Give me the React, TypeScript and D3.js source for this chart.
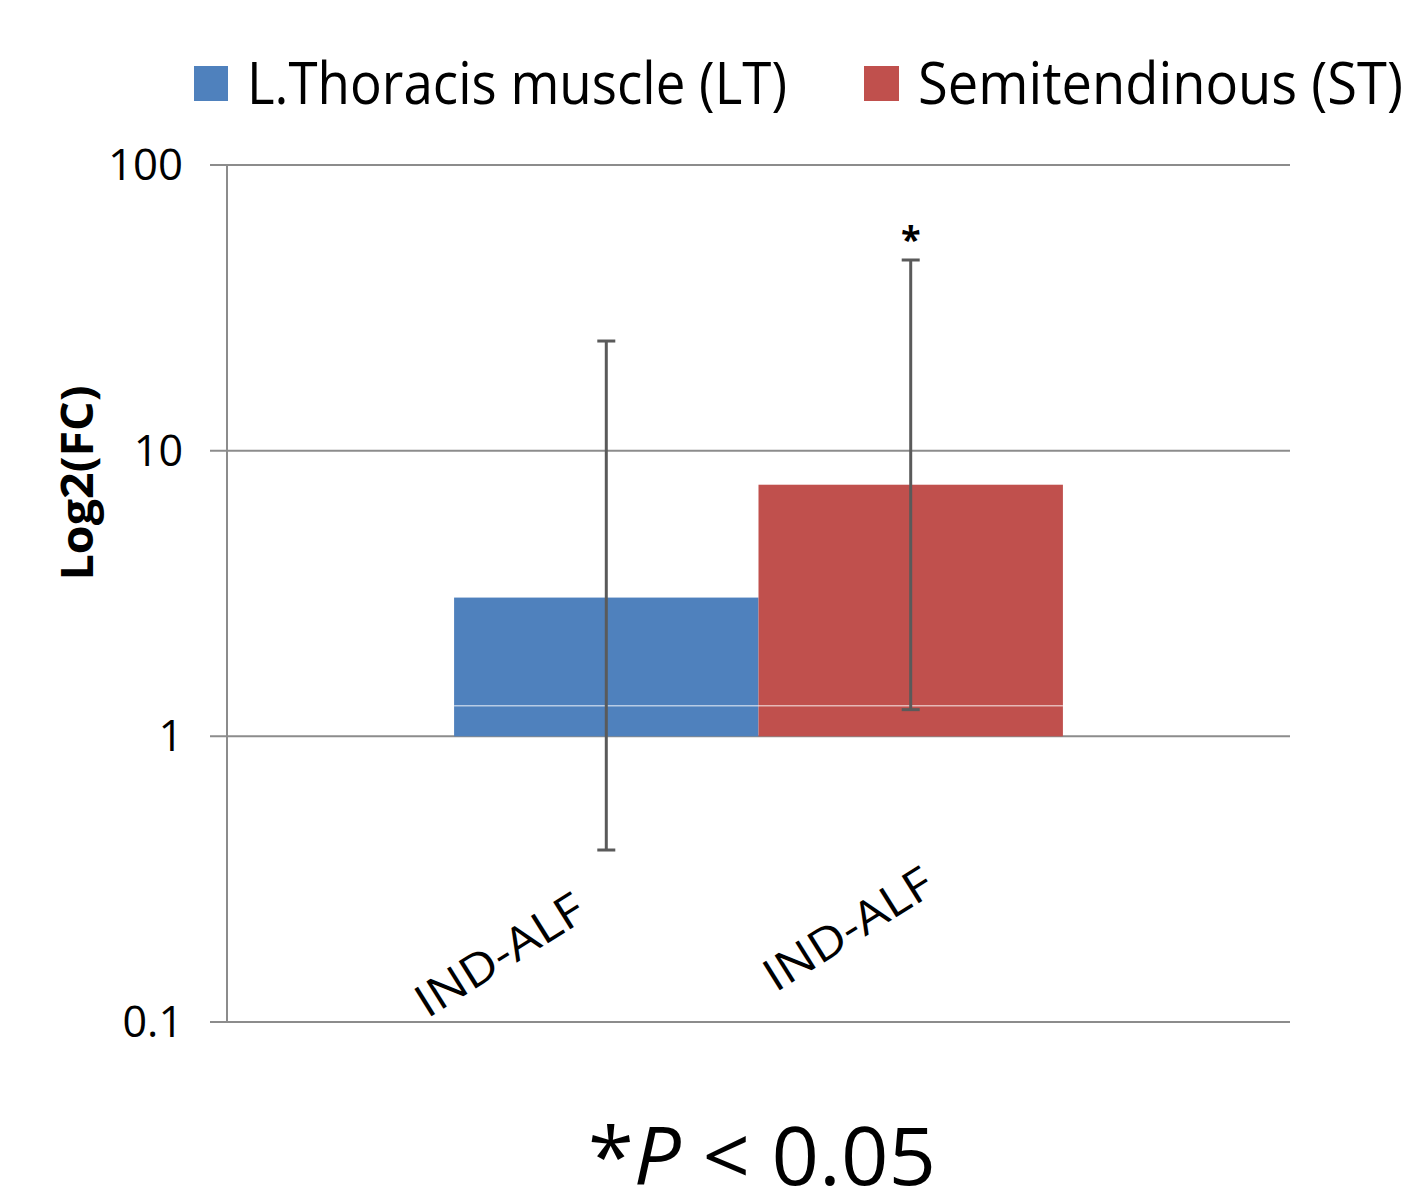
import React from 'react';
import * as d3 from 'd3';

// chart data
const categories = ['IND-ALF'];
const seriesNames = ['L.Thoracis muscle (LT)', 'Semitendinous (ST)'];
const seriesKeys = ['LT', 'ST'];
const seriesColors = ['#4F81BD', '#C0504D'];
const barValues = [3.06, 7.6];
const errLow = [0.4, 1.24];
const errHigh = [24.2, 46.5];
const significant = [false, true];
const yTicks = [0.1, 1, 10, 100];
const yTickLabels = ['0.1', '1', '10', '100'];
const highlightValue = 1.28;

const App = () => {
  const width = 1411;
  const height = 1197;
  const plot = { left: 227, right: 1290, top: 165, bottom: 1022 };
  const font = "'Open Sans', 'Noto Sans', sans-serif";

  const y = d3.scaleLog().domain([0.1, 100]).range([plot.bottom, plot.top]);
  const x0 = d3.scaleBand()
    .domain(categories)
    .range([plot.left, plot.right])
    .paddingInner(0)
    .paddingOuter(0.373);
  const x1 = d3.scaleBand()
    .domain(seriesKeys)
    .range([0, x0.bandwidth()])
    .padding(0);

  const gridColor = '#8c8c8c';
  const errColor = '#5a5a5a';
  const capHalf = 9;

  return (
    <div style={{ position: 'absolute', left: 0, top: 0 }}>
      <svg width={width} height={height} style={{ display: 'block', background: '#fff' }}>
        {/* legend */}
        <g>
          <rect x={194} y={66} width={34} height={35} fill={seriesColors[0]} />
          <text x={247} y={104} fontFamily={font} fontSize={58} textLength={540} lengthAdjust="spacingAndGlyphs">
            {seriesNames[0]}
          </text>
          <rect x={864} y={66} width={35} height={35} fill={seriesColors[1]} />
          <text x={918} y={104} fontFamily={font} fontSize={58} textLength={485} lengthAdjust="spacingAndGlyphs">
            {seriesNames[1]}
          </text>
        </g>

        {/* gridlines and ticks */}
        {yTicks.map((t, i) => (
          <g key={t}>
            <line x1={210} x2={plot.right} y1={y(t)} y2={y(t)} stroke={gridColor} strokeWidth={2} />
            <text
              x={183}
              y={y(t) + 15}
              textAnchor="end"
              fontFamily={font}
              fontSize={43}
              textLength={yTickLabels[i] === '100' ? 75 : undefined}
              lengthAdjust="spacingAndGlyphs"
            >
              {yTickLabels[i]}
            </text>
          </g>
        ))}
        <line x1={plot.left} x2={plot.left} y1={plot.top} y2={plot.bottom} stroke={gridColor} strokeWidth={2} />

        {/* bars */}
        {categories.map((c) => (
          <g key={c} transform={`translate(${x0(c)},0)`}>
            {seriesKeys.map((k, i) => (
              <rect
                key={k}
                x={x1(k)}
                y={y(barValues[i])}
                width={x1.bandwidth()}
                height={y(1) - y(barValues[i])}
                fill={seriesColors[i]}
              />
            ))}
            <line
              x1={0}
              x2={x0.bandwidth()}
              y1={y(highlightValue)}
              y2={y(highlightValue)}
              stroke="rgba(255,255,255,0.6)"
              strokeWidth={1.5}
            />
            {seriesKeys.map((k, i) => {
              const cx = (x1(k) as number) + x1.bandwidth() / 2;
              return (
                <g key={k + 'err'} stroke={errColor} strokeWidth={3}>
                  <line x1={cx} x2={cx} y1={y(errHigh[i])} y2={y(errLow[i])} />
                  <line x1={cx - capHalf} x2={cx + capHalf} y1={y(errHigh[i])} y2={y(errHigh[i])} />
                  <line x1={cx - capHalf} x2={cx + capHalf} y1={y(errLow[i])} y2={y(errLow[i])} />
                </g>
              );
            })}
            {seriesKeys.map((k, i) =>
              significant[i] ? (
                <text
                  key={k + 'sig'}
                  x={(x1(k) as number) + x1.bandwidth() / 2}
                  y={y(errHigh[i]) - 8}
                  textAnchor="middle"
                  fontFamily={font}
                  fontWeight="bold"
                  fontSize={36}
                >
                  *
                </text>
              ) : null
            )}
            {/* rotated category labels under each bar */}
            {seriesKeys.map((k, i) => {
              const cx = (x1(k) as number) + x1.bandwidth() / 2;
              const ax = cx + (i === 0 ? -18 : 26);
              const ay = i === 0 ? 918 : 892;
              return (
                <text
                  key={k + 'lab'}
                  transform={`translate(${ax},${ay}) rotate(-32)`}
                  textAnchor="end"
                  fontFamily={font}
                  fontSize={45}
                  textLength={190}
                  lengthAdjust="spacingAndGlyphs"
                >
                  {c}
                </text>
              );
            })}
          </g>
        ))}

        {/* y axis title */}
        <text
          transform={`translate(93,483) rotate(-90)`}
          textAnchor="middle"
          fontFamily={font}
          fontWeight="bold"
          fontSize={44}
          textLength={195}
          lengthAdjust="spacingAndGlyphs"
        >
          Log2(FC)
        </text>

        {/* footnote */}
        <text x={588} y={1185} fontFamily={font} fontSize={80} textLength={348} lengthAdjust="spacingAndGlyphs">
          *<tspan fontStyle="italic">P</tspan> &lt; 0.05
        </text>
      </svg>
    </div>
  );
};

export default App;
